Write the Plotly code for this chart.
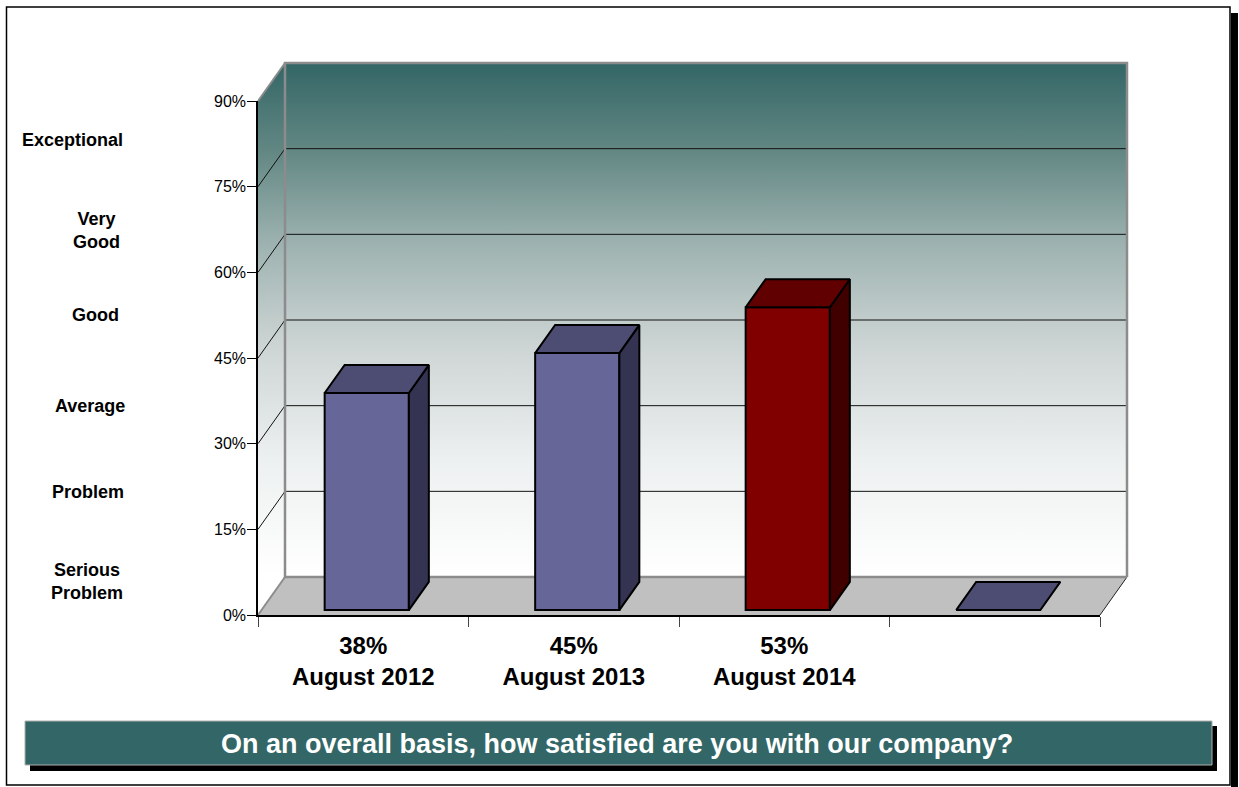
import plotly.graph_objects as go

# ---- data -------------------------------------------------------------
periods = ["August 2012", "August 2013", "August 2014", ""]
satisfaction = [38, 45, 53, 0]
rating_labels = ["Exceptional", "Very<br>Good", "Good", "Average", "Problem", "Serious<br>Problem"]
y_ticks = [0, 15, 30, 45, 60, 75, 90]
question = "On an overall basis, how satisfied are you with our company?"

# ---- geometry (pixels of the page) ------------------------------------
W, H = 1239, 787
X0_PX, X1_PX = 258, 1100      # front edge of the floor
Y0_PX, YTOP_PX = 615, 101     # 0% and 90% on the front axis
N = len(periods)
YMAX = y_ticks[-1]
slot_px = (X1_PX - X0_PX) / N
pct_px = (Y0_PX - YTOP_PX) / YMAX
DX = 27 / slot_px             # depth of the box, in slot units
DY = 38 / pct_px              # depth of the box, in percent units
BAR_W = 0.4
BAR_FRONT, BAR_BACK = 0.13, 0.87   # bar position inside the box depth

front_col = ["#666699", "#666699", "#800000", "#666699"]
top_col = ["#4d4d73", "#4d4d73", "#600000", "#4d4d73"]
side_col = ["#343452", "#343452", "#400000", "#343452"]

TEAL = "#336666"
FONT = "Liberation Sans, Arial, sans-serif"

fig = go.Figure()


def poly(xs, ys, fill=None, color="black", width=1.0, axes=("x", "y"), gradient=None):
    xs = list(xs) + [xs[0]]
    ys = list(ys) + [ys[0]]
    kw = dict(x=xs, y=ys, mode="lines", xaxis=axes[0], yaxis=axes[1],
              line=dict(color=color, width=width), hoverinfo="skip", showlegend=False)
    if fill is not None or gradient is not None:
        kw["fill"] = "toself"
        kw["fillcolor"] = fill or "rgba(0,0,0,0)"
    if gradient is not None:
        kw["fillgradient"] = gradient
    fig.add_trace(go.Scatter(**kw))


def seg(x0, y0, x1, y1, color="black", width=1.0, axes=("x", "y")):
    fig.add_trace(go.Scatter(x=[x0, x1], y=[y0, y1], mode="lines", xaxis=axes[0], yaxis=axes[1],
                             line=dict(color=color, width=width), hoverinfo="skip", showlegend=False))


wall_grad = dict(type="vertical", start=DY, stop=YMAX + DY,
                 colorscale=[[0.0, "#ffffff"], [0.22, "#eef1f1"], [0.45, "#cdd5d4"],
                             [0.65, "#9db2b0"], [0.83, "#628783"], [1.0, TEAL]])

# back wall
poly([DX, N + DX, N + DX, DX], [DY, DY, YMAX + DY, YMAX + DY],
     fill="#ffffff", color="rgba(0,0,0,0)", width=0, gradient=wall_grad)
# left wall
poly([0, 0, DX, DX], [0, YMAX, YMAX + DY, DY],
     fill="#ffffff", color="rgba(0,0,0,0)", width=0, gradient=wall_grad)

# gridlines on the back wall and matching diagonals on the left wall
for t in y_ticks[1:-1]:
    seg(DX, t + DY, N + DX, t + DY, color="#111111", width=1)
    seg(0, t, DX, t + DY, color="#111111", width=1)

# floor
poly([0, N, N + DX, DX], [0, 0, DY, DY], fill="#c0c0c0", color="rgba(0,0,0,0)", width=0)
seg(N, 0, N + DX, DY, color="#222222", width=1)
seg(0, 0, DX, DY, color="#8c8c8c", width=2)

# wall outlines
fig.add_trace(go.Scatter(x=[N + DX, N + DX, DX, DX, N + DX], y=[DY, YMAX + DY, YMAX + DY, DY, DY],
                         mode="lines", line=dict(color="#8c8c8c", width=2.5),
                         hoverinfo="skip", showlegend=False))
seg(0, YMAX, DX, YMAX + DY, color="#8c8c8c", width=2)

# ---- bars (drawn on an overlay so they sit above the walls) ------------
ov = ("x3", "y3")
fx, fy = BAR_FRONT * DX, BAR_FRONT * DY
bx, by = BAR_BACK * DX, BAR_BACK * DY
for i, v in enumerate(satisfaction):
    cx = i + 0.5
    l, r = cx - BAR_W / 2, cx + BAR_W / 2
    if v > 0:
        poly([r + fx, r + bx, r + bx, r + fx], [fy, by, v + by, v + fy],
             fill=side_col[i], color="black", width=2, axes=ov)
    poly([l + fx, r + fx, r + bx, l + bx], [v + fy, v + fy, v + by, v + by],
         fill=top_col[i], color="black", width=2, axes=ov)

fig.add_trace(go.Bar(
    x=[i + 0.5 + fx for i in range(N)], y=satisfaction, base=fy, width=BAR_W,
    marker=dict(color=front_col, line=dict(color="black", width=2)),
    xaxis="x3", yaxis="y3", hoverinfo="skip", showlegend=False))

# anchor trace for the visible axes
fig.add_trace(go.Scatter(x=[0], y=[0], xaxis="x2", yaxis="y2", mode="markers",
                         marker=dict(opacity=0), hoverinfo="skip", showlegend=False))

# ---- layout ----------------------------------------------------------
xr = [-X0_PX / slot_px, (W - X0_PX) / slot_px]
yr = [-(H - Y0_PX) / pct_px, Y0_PX / pct_px]
hidden = dict(visible=False, showgrid=False, zeroline=False, fixedrange=True, automargin=False)

cat_text = [f"{v}%<br>{p}" if p else "" for v, p in zip(satisfaction, periods)]


def px(x):
    return x / W


def py(y):
    return 1 - y / H


shapes = [
    # page frame with shadow
    dict(type="rect", xref="paper", yref="paper", x0=px(1231), x1=px(1238), y0=py(13), y1=py(787),
         fillcolor="black", line=dict(width=0), layer="below"),
    dict(type="rect", xref="paper", yref="paper", x0=px(6.5), x1=px(1230), y0=py(7), y1=py(785),
         line=dict(color="black", width=1.5), layer="below"),
    # question banner
    dict(type="rect", xref="paper", yref="paper", x0=px(30), x1=px(1217), y0=py(726), y1=py(771),
         fillcolor="black", line=dict(width=0), layer="above"),
    dict(type="rect", xref="paper", yref="paper", x0=px(25), x1=px(1212), y0=py(721), y1=py(765),
         fillcolor=TEAL, line=dict(color="#b0b0b0", width=1), layer="above"),
]

label_x = [72, 96, 95, 90, 88, 87]
label_y = [83.2, 67.4, 52.5, 36.6, 21.5, 5.8]
annotations = [
    dict(text=t, xref="paper", yref="y2", x=px(xc), y=yc, showarrow=False, xanchor="center",
         yanchor="middle", font=dict(family=FONT, size=18, color="black", weight="bold"))
    for t, xc, yc in zip(rating_labels, label_x, label_y)
]
annotations.append(dict(text=question, xref="paper", yref="paper", x=px(617), y=py(744),
                        showarrow=False, xanchor="center", yanchor="middle",
                        font=dict(family=FONT, size=27, color="white", weight="bold")))

fig.update_layout(
    template="none",
    width=W, height=H, margin=dict(l=0, r=0, t=0, b=0, pad=0, autoexpand=False),
    paper_bgcolor="white", plot_bgcolor="rgba(0,0,0,0)",
    showlegend=False, barmode="overlay",
    xaxis=dict(domain=[0, 1], range=xr, **hidden),
    yaxis=dict(domain=[0, 1], range=yr, **hidden),
    xaxis3=dict(overlaying="x", range=xr, **hidden),
    yaxis3=dict(overlaying="y", range=yr, **hidden),
    xaxis2=dict(domain=[px(X0_PX), px(X1_PX)], range=[0, N], anchor="y2",
                tickvals=[i + 0.5 for i in range(N)], ticktext=cat_text, ticks="",
                ticklabelstandoff=8, automargin=False,
                tickfont=dict(family=FONT, size=24, color="black", weight="bold"),
                minor=dict(tickvals=list(range(N + 1)), ticks="outside", ticklen=10,
                           tickcolor="#444444", tickwidth=1.2, showgrid=False),
                showline=True, linecolor="black", linewidth=1.5,
                showgrid=False, zeroline=False, fixedrange=True),
    yaxis2=dict(domain=[py(Y0_PX), py(YTOP_PX)], range=[0, YMAX], anchor="x2",
                tickvals=y_ticks, ticktext=[f"{t}%" for t in y_ticks],
                ticks="outside", ticklen=9, tickcolor="black", tickwidth=1.2,
                ticklabelstandoff=-2, automargin=False,
                tickfont=dict(family=FONT, size=16, color="black"),
                showline=True, linecolor="black", linewidth=1.5,
                showgrid=False, zeroline=False, fixedrange=True),
    shapes=shapes, annotations=annotations,
)

fig.write_html("out.html")
